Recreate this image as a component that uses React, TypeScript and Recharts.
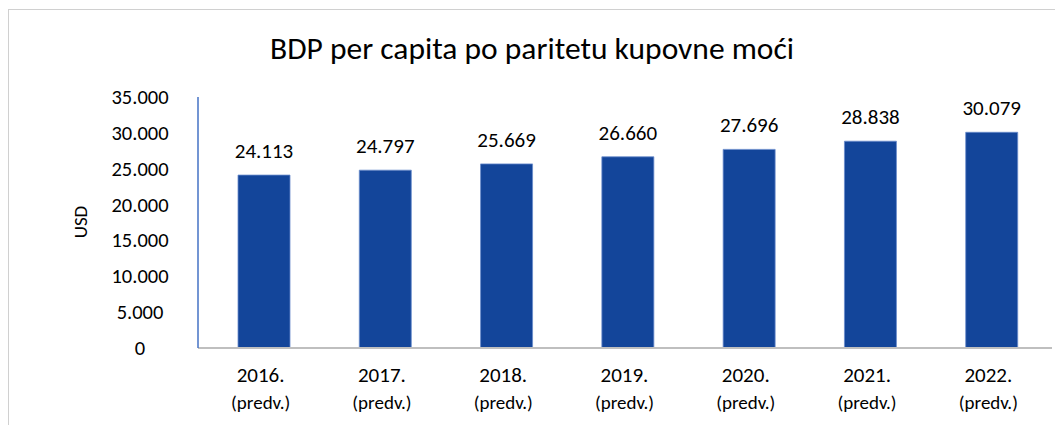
import { BarChart, Bar, XAxis, YAxis, LabelList } from 'recharts';

const years = ['2016.', '2017.', '2018.', '2019.', '2020.', '2021.', '2022.'];
const gdpPpp = [24113, 24797, 25669, 26660, 27696, 28838, 30079];
const yearNote = '(predv.)';
const yTicks = [0, 5000, 10000, 15000, 20000, 25000, 30000, 35000];

const chartData = years.map((year, i) => ({ year, value: gdpPpp[i] }));

const FONT = 'Carlito, Lato, "Open Sans", sans-serif';

// thousands with a dot, as in the source
const fmt = (v: number) => String(v).replace(/\B(?=(\d{3})+(?!\d))/g, '.');

const YTick = ({ y, payload }: any) => (
  <text x={140} y={y} dy={7} textAnchor="middle" fontSize={20.5} fill="#000" fontFamily={FONT}>
    {fmt(payload.value)}
  </text>
);

const XTick = ({ x, y, payload }: any) => (
  <g>
    <text x={x - 3} y={y + 26} textAnchor="middle" fontSize={21} fill="#000" fontFamily={FONT}>
      {payload.value}
    </text>
    <text x={x - 3} y={y + 53} textAnchor="middle" fontSize={19} fill="#000" fontFamily={FONT}>
      {yearNote}
    </text>
  </g>
);

export default function App() {
  return (
    <div style={{ position: 'absolute', left: 0, top: 0, width: 1055, height: 425, overflow: 'hidden', background: '#fff' }}>
      <div
        style={{
          position: 'absolute',
          left: 8,
          top: 9,
          width: 1100,
          height: 500,
          borderLeft: '1.5px solid #d0d0d0',
          borderTop: '1.5px solid #d0d0d0',
        }}
      />
      <div
        style={{
          position: 'absolute',
          left: 0,
          width: 1064,
          top: 29,
          lineHeight: '38px',
          textAlign: 'center',
          fontFamily: FONT,
          fontSize: 31.5,
          color: '#000',
        }}
      >
        BDP per capita po paritetu kupovne moći
      </div>
      <div
        style={{
          position: 'absolute',
          left: 80,
          top: 222,
          transform: 'translate(-50%, -50%) rotate(-90deg)',
          fontFamily: FONT,
          fontSize: 19,
          color: '#000',
        }}
      >
        USD
      </div>
      <div style={{ position: 'absolute', left: 0, top: 0 }}>
        <BarChart width={1055} height={425} data={chartData} margin={{ top: 97, right: 3, bottom: 0, left: 0 }}>
          <XAxis
            dataKey="year"
            height={77}
            padding={{ left: 5, right: 0 }}
            tickLine={false}
            axisLine={{ stroke: '#bfbfbf', strokeWidth: 2 }}
            tick={<XTick />}
            interval={0}
          />
          <YAxis
            width={198}
            domain={[0, 35000]}
            ticks={yTicks}
            tickLine={false}
            axisLine={{ stroke: '#4472c4', strokeWidth: 1.5 }}
            tick={<YTick />}
            interval={0}
          />
          <Bar dataKey="value" fill="#13459a" stroke="#6a8ccc" strokeWidth={0.8} barSize={52} isAnimationActive={false}>
            <LabelList
              dataKey="value"
              position="top"
              offset={17}
              formatter={(v: any) => fmt(Number(v))}
              style={{ fontSize: 21, fill: '#000', fontFamily: FONT }}
            />
          </Bar>
        </BarChart>
      </div>
    </div>
  );
}
